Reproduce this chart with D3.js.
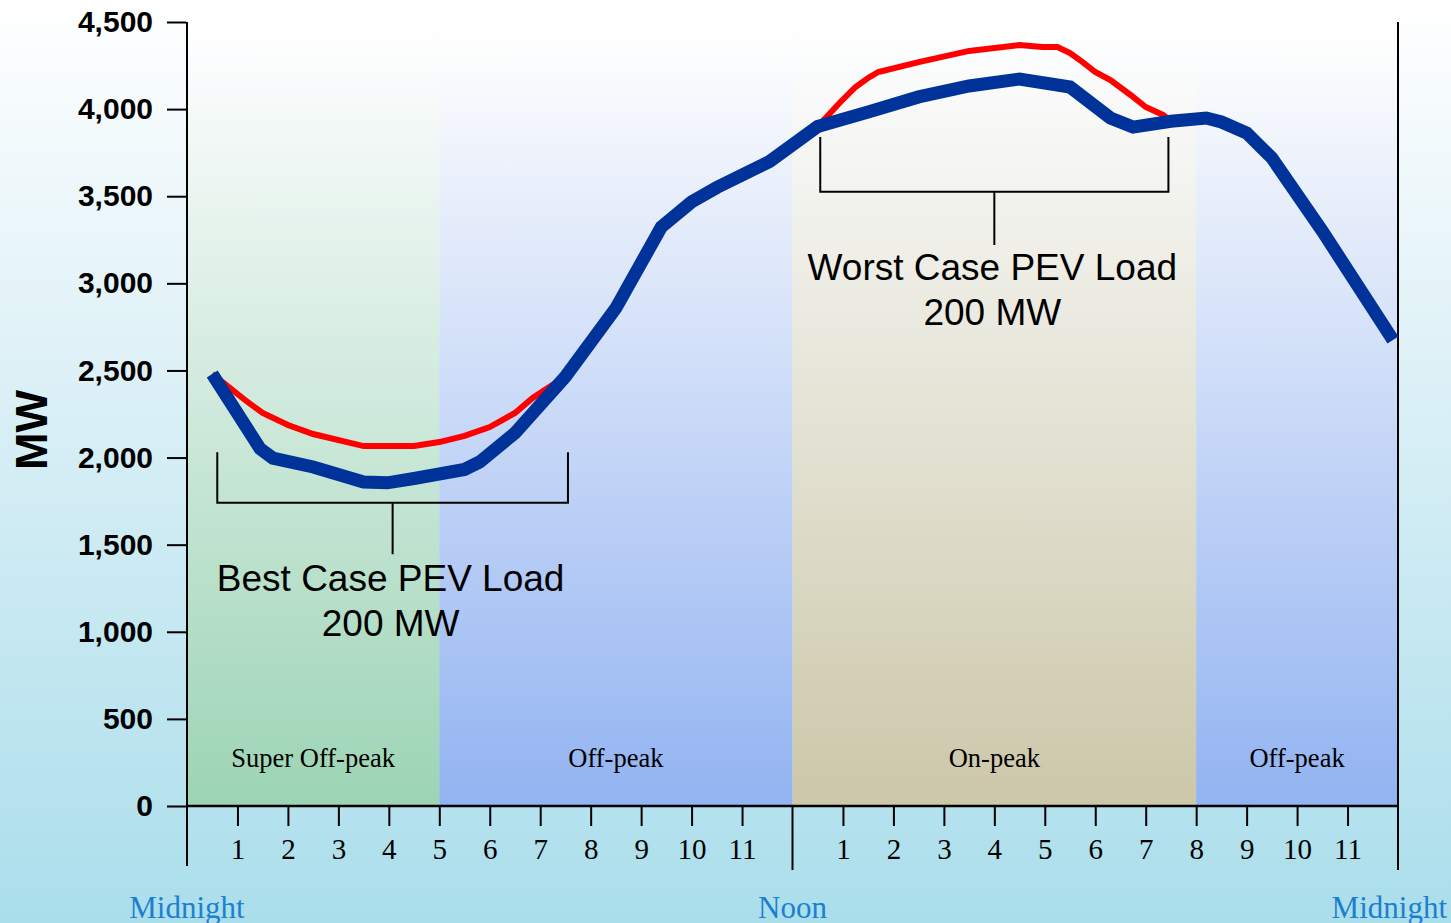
<!DOCTYPE html>
<html lang="en">
<head>
<meta charset="UTF-8">
<title>PEV Load - Daily Load Curve</title>
<script src="https://d3js.org/d3.v7.min.js"></script>
<style>
    html, body { margin: 0; padding: 0; }
    svg { display: block; }
</style>
</head>
<body>
<svg width="1451" height="923"></svg>
<script>
    // base load curve (hour of day, MW)
    const baseHours = [0.5, 1.45, 1.7, 2.5, 3.5, 3.97, 4.5, 5.5, 5.8, 6.5, 7.5, 8.5, 9.4, 10.0, 10.5, 11.55,
        12.5, 13.5, 14.5, 15.5, 16.5, 17.5, 18.3, 18.75, 19.5, 20.2, 20.5, 21.0, 21.5, 22.5, 23.9];
    const baseLoad = [2480, 2050, 1997, 1946, 1860, 1855, 1880, 1932, 1975, 2141, 2465, 2858, 3323, 3467, 3550, 3700,
        3900, 3983, 4070, 4133, 4173, 4127, 3949, 3897, 3930, 3949, 3926, 3863, 3720, 3300, 2675];

    // base + PEV charging, best case (night)
    const bestHours = [0.5, 1.2, 1.5, 2.0, 2.5, 3.5, 4.5, 5.0, 5.5, 6.0, 6.5, 6.85, 7.5];
    const bestLoad = [2480, 2319, 2256, 2187, 2135, 2066, 2066, 2089, 2124, 2175, 2256, 2342, 2465];

    // base + PEV charging, worst case (afternoon)
    const worstHours = [12.5, 12.95, 13.25, 13.5, 13.7, 14.5, 15.5, 16.5, 16.95, 17.25, 17.5, 17.75, 18.0, 18.3, 18.7, 19.0, 19.35, 19.5];
    const worstLoad = [3900, 4041, 4127, 4179, 4213, 4270, 4334, 4368, 4356, 4356, 4322, 4270, 4213, 4167, 4081, 4012, 3966, 3930];

    // rate periods
    const periodNames = ["Super Off-peak", "Off-peak", "On-peak", "Off-peak"];
    const periodStart = [0, 5, 12, 20];
    const periodEnd = [5, 12, 20, 24];
    const periodColors = ["#9cd4b5", "#92b3f1", "#ccc7a9", "#92b3f1"];

    const yTicks = [0, 500, 1000, 1500, 2000, 2500, 3000, 3500, 4000, 4500];
    const hourTicks = [1, 2, 3, 4, 5, 6, 7, 8, 9, 10, 11, 13, 14, 15, 16, 17, 18, 19, 20, 21, 22, 23];
    const dayLabels = ["Midnight", "Noon", "Midnight"];
    const dayLabelHours = [0, 12, 24];

    const svg = d3.select("svg");
    const W = 1451, H = 923;

    const x = d3.scaleLinear().domain([0, 24]).range([187, 1398]);
    const y = d3.scaleLinear().domain([0, 4500]).range([806, 22]);

    const defs = svg.append("defs");

    // page background
    const bg = defs.append("linearGradient").attr("id", "bg")
        .attr("x1", 0).attr("y1", 0).attr("x2", 0).attr("y2", 1);
    bg.append("stop").attr("offset", "0%").attr("stop-color", "#ffffff");
    bg.append("stop").attr("offset", "45%").attr("stop-color", "#d9eff6");
    bg.append("stop").attr("offset", "100%").attr("stop-color", "#aadeeb");
    svg.append("rect").attr("width", W).attr("height", H).attr("fill", "url(#bg)");

    // period bands, white at top fading into colour
    periodNames.forEach((name, i) => {
        const gr = defs.append("linearGradient").attr("id", "band" + i)
            .attr("x1", 0).attr("y1", 0).attr("x2", 0).attr("y2", 1);
        gr.append("stop").attr("offset", "0%").attr("stop-color", "#ffffff");
        gr.append("stop").attr("offset", "5%").attr("stop-color", "#fbfcfd");
        gr.append("stop").attr("offset", "100%").attr("stop-color", periodColors[i]);
    });

    svg.append("g").selectAll("rect")
        .data(periodNames)
        .join("rect")
        .attr("x", (d, i) => x(periodStart[i]))
        .attr("y", y(4500))
        .attr("width", (d, i) => x(periodEnd[i]) - x(periodStart[i]))
        .attr("height", y(0) - y(4500))
        .attr("fill", (d, i) => "url(#band" + i + ")");

    svg.append("g").selectAll("text")
        .data(periodNames)
        .join("text")
        .attr("x", (d, i) => (x(periodStart[i]) + x(periodEnd[i])) / 2)
        .attr("y", 767)
        .attr("text-anchor", "middle")
        .style("font-family", "'Liberation Serif', 'Times New Roman', serif")
        .style("font-size", "26.5px")
        .text(d => d);

    // y axis
    const yAxis = svg.append("g")
        .attr("transform", "translate(186,0)")
        .call(d3.axisLeft(y).tickValues(yTicks).tickSize(19).tickPadding(14).tickFormat(d3.format(",")));
    yAxis.select(".domain").remove();
    yAxis.selectAll("line").attr("stroke", "#000").attr("stroke-width", 2);
    yAxis.selectAll("text")
        .style("font-family", "'Liberation Sans', Arial, sans-serif")
        .style("font-size", "30px")
        .style("font-weight", "bold")
        .attr("fill", "#000");

    svg.append("text")
        .attr("transform", "translate(47,430) rotate(-90)")
        .attr("text-anchor", "middle")
        .style("font-family", "'Liberation Sans', Arial, sans-serif")
        .style("font-size", "45px")
        .style("font-weight", "bold")
        .text("MW");

    // x axis
    const xAxis = svg.append("g")
        .attr("transform", "translate(0,806)")
        .call(d3.axisBottom(x).tickValues(hourTicks).tickSize(20).tickPadding(12).tickFormat(d => d % 12));
    xAxis.select(".domain").remove();
    xAxis.selectAll("line").attr("stroke", "#000").attr("stroke-width", 2);
    xAxis.selectAll("text")
        .style("font-family", "'Liberation Serif', 'Times New Roman', serif")
        .style("font-size", "29px")
        .attr("fill", "#000");

    // frame lines
    svg.append("line").attr("x1", 186).attr("x2", 1398).attr("y1", 806).attr("y2", 806)
        .attr("stroke", "#000").attr("stroke-width", 2.5);
    svg.append("line").attr("x1", x(0)).attr("x2", x(0)).attr("y1", y(4500)).attr("y2", 866)
        .attr("stroke", "#000").attr("stroke-width", 2);
    svg.append("line").attr("x1", x(12)).attr("x2", x(12)).attr("y1", 806).attr("y2", 870)
        .attr("stroke", "#000").attr("stroke-width", 2);
    svg.append("line").attr("x1", x(24)).attr("x2", x(24)).attr("y1", y(4500)).attr("y2", 870)
        .attr("stroke", "#000").attr("stroke-width", 2);

    svg.append("g").selectAll("text")
        .data(dayLabels)
        .join("text")
        .attr("x", (d, i) => i === 2 ? W - 4 : x(dayLabelHours[i]))
        .attr("y", 918)
        .attr("text-anchor", (d, i) => i === 2 ? "end" : "middle")
        .attr("fill", "#1c7fd0")
        .style("font-family", "'Liberation Serif', 'Times New Roman', serif")
        .style("font-size", "31px")
        .text(d => d);

    // load curves
    const line = d3.line().x(d => x(d[0])).y(d => y(d[1]));

    svg.append("path")
        .datum(d3.zip(bestHours, bestLoad))
        .attr("d", line)
        .attr("fill", "none")
        .attr("stroke", "#ff0000")
        .attr("stroke-width", 6);

    svg.append("path")
        .datum(d3.zip(worstHours, worstLoad))
        .attr("d", line)
        .attr("fill", "none")
        .attr("stroke", "#ff0000")
        .attr("stroke-width", 6);

    svg.append("path")
        .datum(d3.zip(baseHours, baseLoad))
        .attr("d", line)
        .attr("fill", "none")
        .attr("stroke", "#003399")
        .attr("stroke-width", 13);

    // brackets with callouts
    const notes = [
        { from: 0.6, to: 7.55, top: 2030, bottom: 1740, stem: 1445, lines: ["Best Case PEV Load", "200 MW"], textY: 591 },
        { from: 12.55, to: 19.45, top: 3840, bottom: 3525, stem: 3220, lines: ["Worst Case PEV Load", "200 MW"], textY: 280 }
    ];

    notes.forEach(n => {
        const g = svg.append("g");
        const x1 = x(n.from), x2 = x(n.to), xm = (x1 + x2) / 2;
        g.append("path")
            .attr("d", `M${x1},${y(n.top)}V${y(n.bottom)}H${x2}V${y(n.top)}M${xm},${y(n.bottom)}V${y(n.stem)}`)
            .attr("fill", "none")
            .attr("stroke", "#000")
            .attr("stroke-width", 2);
        g.selectAll("text")
            .data(n.lines)
            .join("text")
            .attr("x", xm - 2)
            .attr("y", (d, i) => n.textY + i * 45)
            .attr("text-anchor", "middle")
            .style("font-family", "'Liberation Sans', Arial, sans-serif")
            .style("font-size", "37px")
            .text(d => d);
    });
</script>
</body>
</html>
